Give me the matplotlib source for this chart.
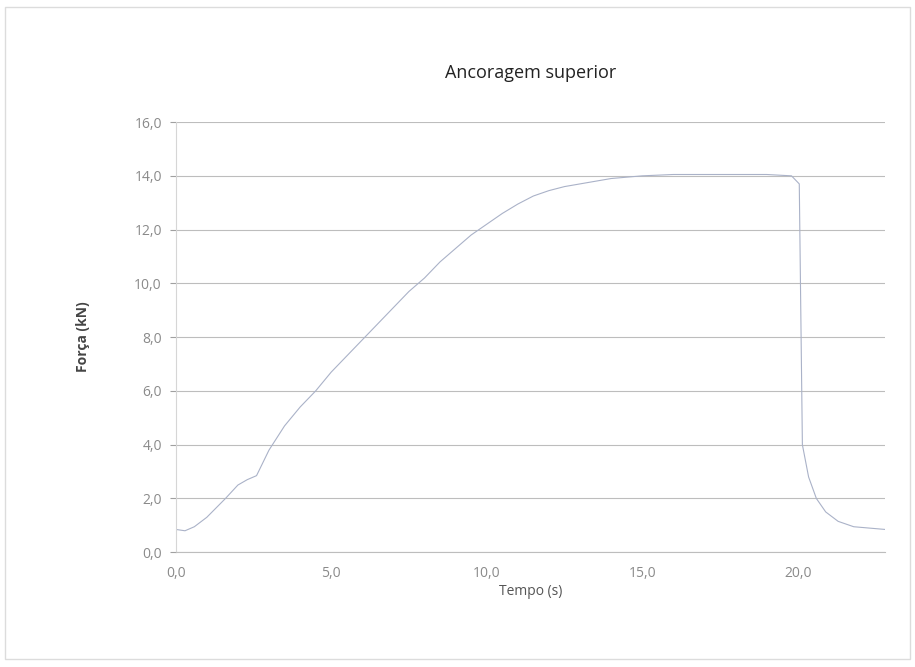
import matplotlib
matplotlib.use("Agg")
import matplotlib.pyplot as plt
from matplotlib.patches import Rectangle
from matplotlib.ticker import FuncFormatter

# Data: time (s) and force (kN)
tempo = [0.0, 0.3, 0.6, 1.0, 1.6, 2.0, 2.3, 2.6, 3.0, 3.5, 4.0, 4.5, 5.0, 5.5,
         6.0, 6.5, 7.0, 7.5, 8.0, 8.5, 9.0, 9.5, 10.0, 10.5, 11.0, 11.5, 12.0,
         12.5, 13.0, 13.5, 14.0, 15.0, 16.0, 17.0, 18.0, 19.0, 19.8, 20.05,
         20.15, 20.35, 20.6, 20.9, 21.3, 21.8, 22.3, 22.8]
forca = [0.85, 0.80, 0.95, 1.3, 2.0, 2.5, 2.7, 2.85, 3.8, 4.7, 5.4, 6.0, 6.7,
         7.3, 7.9, 8.5, 9.1, 9.7, 10.2, 10.8, 11.3, 11.8, 12.2, 12.6, 12.95,
         13.25, 13.45, 13.6, 13.7, 13.8, 13.9, 14.0, 14.05, 14.05, 14.05, 14.05,
         14.0, 13.7, 4.0, 2.8, 2.0, 1.5, 1.15, 0.95, 0.9, 0.85]

x_ticks = [0, 5, 10, 15, 20]
y_ticks = [0, 2, 4, 6, 8, 10, 12, 14, 16]

plt.rcParams['font.family'] = ['Open Sans', 'DejaVu Sans']

fig = plt.figure(figsize=(9.15, 6.67), dpi=100)
ax = fig.add_axes([0.192, 0.172, 0.775, 0.645])

# Faint chart border
fig.patches.append(Rectangle((0.006, 0.012), 0.988, 0.978, transform=fig.transFigure,
                             fill=False, edgecolor='#dcdcdc', linewidth=1))

ax.plot(tempo, forca, color='#aab2c8', linewidth=0.8)

ax.set_xlim(0, 22.8)
ax.set_ylim(0, 16)
ax.set_xticks(x_ticks)
ax.set_yticks(y_ticks)
fmt = FuncFormatter(lambda v, p: f'{v:.1f}'.replace('.', ','))
ax.xaxis.set_major_formatter(fmt)
ax.yaxis.set_major_formatter(fmt)

ax.grid(axis='y', color='#bdbdbd', linewidth=0.8)
ax.set_axisbelow(True)
for s in ['top', 'right']:
    ax.spines[s].set_visible(False)
ax.spines['left'].set_color('#d6d6d6')
ax.spines['bottom'].set_color('#bdbdbd')
ax.tick_params(axis='y', colors='#a0a0a0', labelsize=10, length=4, pad=6)
ax.tick_params(axis='x', colors='#a0a0a0', labelsize=10, length=0, pad=10)
for lbl in ax.get_xticklabels() + ax.get_yticklabels():
    lbl.set_color('#8a8a8a')

ax.set_title('Ancoragem superior', fontsize=13, color='#222222', pad=32)
ax.set_xlabel('Tempo (s)', fontsize=10, color='#555555', labelpad=2)
ax.set_ylabel('Força (kN)', fontsize=10, color='#444444', fontweight='bold', labelpad=32)

fig.savefig('out.png', dpi=100, facecolor='white')
